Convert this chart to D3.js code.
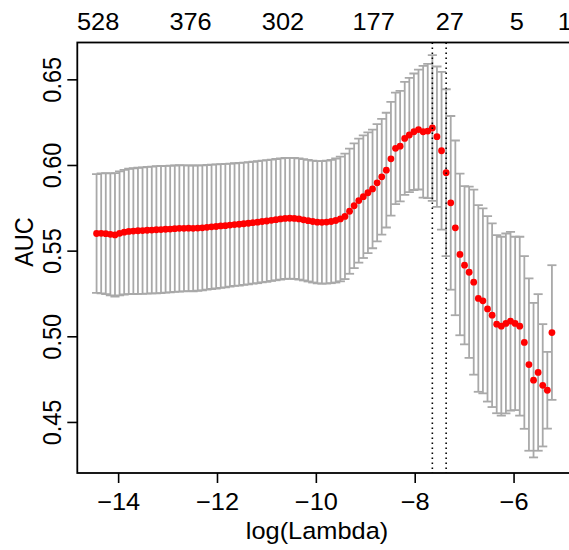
<!DOCTYPE html>
<html>
<head>
<meta charset="utf-8">
<script src="https://cdn.jsdelivr.net/npm/d3@7"></script>
<style>
body { margin: 0; background: #fff; }
text { font-family: "Liberation Sans", Arial, Helvetica, sans-serif; fill: #000; }
</style>
</head>
<body>
<script>
// log(lambda) grid of the cv fit, smallest lambda first
var logLambda = [
  -14.436, -14.343, -14.250, -14.157, -14.064, -13.971, -13.878, -13.785, -13.692, -13.599,
  -13.506, -13.412, -13.319, -13.226, -13.133, -13.040, -12.947, -12.854, -12.761, -12.668,
  -12.575, -12.482, -12.389, -12.296, -12.203, -12.110, -12.017, -11.924, -11.831, -11.738,
  -11.645, -11.551, -11.458, -11.365, -11.272, -11.179, -11.086, -10.993, -10.900, -10.807,
  -10.714, -10.621, -10.528, -10.435, -10.342, -10.249, -10.156, -10.063, -9.970, -9.877,
  -9.784, -9.690, -9.597, -9.504, -9.411, -9.318, -9.225, -9.132, -9.039, -8.946,
  -8.853, -8.760, -8.667, -8.574, -8.481, -8.388, -8.295, -8.202, -8.109, -8.016,
  -7.923, -7.829, -7.736, -7.643, -7.550, -7.457, -7.364, -7.271, -7.178, -7.085,
  -6.992, -6.899, -6.806, -6.713, -6.620, -6.527, -6.434, -6.341, -6.248, -6.155,
  -6.062, -5.968, -5.875, -5.782, -5.689, -5.596, -5.503, -5.410, -5.317, -5.224
];

// mean cross-validated AUC
var cvm = [
  0.5600, 0.5601, 0.5599, 0.5595, 0.5592, 0.5601, 0.5608, 0.5612, 0.5614, 0.5616,
  0.5617, 0.5619, 0.5620, 0.5622, 0.5623, 0.5625, 0.5626, 0.5628, 0.5630, 0.5630,
  0.5631, 0.5630, 0.5632, 0.5633, 0.5636, 0.5639, 0.5641, 0.5644, 0.5646, 0.5649,
  0.5652, 0.5654, 0.5657, 0.5660, 0.5663, 0.5666, 0.5670, 0.5673, 0.5677, 0.5681,
  0.5685, 0.5688, 0.5689, 0.5688, 0.5685, 0.5680, 0.5675, 0.5670, 0.5666, 0.5665,
  0.5667, 0.5670, 0.5676, 0.5685, 0.5700, 0.5730, 0.5762, 0.5792, 0.5815, 0.5838,
  0.5860, 0.5896, 0.5931, 0.5970, 0.6036, 0.6097, 0.6110, 0.6155, 0.6175, 0.6194,
  0.6207, 0.6194, 0.6198, 0.6216, 0.6165, 0.6083, 0.5955, 0.5779, 0.5633, 0.5478,
  0.5415, 0.5374, 0.5316, 0.5221, 0.5207, 0.5160, 0.5123, 0.5071, 0.5059, 0.5075,
  0.5088, 0.5075, 0.5059, 0.4964, 0.4835, 0.4744, 0.4789, 0.4714, 0.4685, 0.5022
];

// standard error of the cv AUC
var cvsd = [
  0.0347, 0.0350, 0.0353, 0.0356, 0.0360, 0.0362, 0.0364, 0.0366, 0.0367, 0.0368,
  0.0369, 0.0370, 0.0370, 0.0371, 0.0371, 0.0370, 0.0370, 0.0369, 0.0369, 0.0368,
  0.0367, 0.0367, 0.0366, 0.0365, 0.0364, 0.0363, 0.0362, 0.0361, 0.0360, 0.0359,
  0.0358, 0.0358, 0.0357, 0.0357, 0.0356, 0.0356, 0.0355, 0.0355, 0.0354, 0.0354,
  0.0354, 0.0353, 0.0353, 0.0353, 0.0354, 0.0354, 0.0355, 0.0356, 0.0357, 0.0358,
  0.0359, 0.0360, 0.0362, 0.0364, 0.0366, 0.0365, 0.0364, 0.0362, 0.0358, 0.0352,
  0.0346, 0.0342, 0.0338, 0.0335, 0.0332, 0.0325, 0.0323, 0.0330, 0.0333, 0.0340,
  0.0350, 0.0385, 0.0392, 0.0425, 0.0410, 0.0460, 0.0487, 0.0507, 0.0510, 0.0472,
  0.0462, 0.0500, 0.0540, 0.0545, 0.0540, 0.0541, 0.0536, 0.0520, 0.0522, 0.0525,
  0.0522, 0.0506, 0.0522, 0.0504, 0.0503, 0.0451, 0.0457, 0.0357, 0.0224, 0.0393
];

var xTicks = [-14, -12, -10, -8, -6];
var yTicks = [0.45, 0.50, 0.55, 0.60, 0.65];

// number of non-zero coefs, top axis
var topAt = [-14.405, -12.535, -10.665, -8.83, -7.29, -5.934, -4.963];
var topLabels = ["528", "376", "302", "177", "27", "5", "1"];

// lambda.min and lambda.1se
var vLines = [-7.643, -7.364];

var width = 569, height = 550;
var pLeft = 77.3, pRight = 584, pTop = 42.5, pBottom = 473;
var fs = 23.5, stretch = 1.08;   // text in the picture is a bit wide

var svg = d3.select("body")
    .append("svg")
    .attr("width", width)
    .attr("height", height)
    .style("display", "block");

svg.append("rect").attr("width", width).attr("height", height).attr("fill", "#fff");

var x = d3.scaleLinear().domain([-14.826, -4.575]).range([pLeft, pRight]);
var y = d3.scaleLinear().domain([0.4202, 0.6715]).range([pBottom, pTop]);

svg.append("clipPath").attr("id", "plotclip")
    .append("rect")
    .attr("x", pLeft).attr("y", pTop)
    .attr("width", pRight - pLeft).attr("height", pBottom - pTop);

var plot = svg.append("g").attr("clip-path", "url(#plotclip)");

var pts = logLambda.map(function(d, i) {
    return { ll: d, m: cvm[i], up: cvm[i] + cvsd[i], lo: cvm[i] - cvsd[i] };
});

// cap half width, like glmnet error.bars
var ext = d3.extent(logLambda);
var barw = (ext[1] - ext[0]) * 0.01;

var bars = plot.append("g")
    .attr("stroke", "#A9A9A9")
    .attr("stroke-width", 1.8)
    .attr("fill", "none");

bars.selectAll(".vbar")
    .data(pts)
    .enter()
    .append("line")
    .attr("x1", function(d) { return x(d.ll); })
    .attr("x2", function(d) { return x(d.ll); })
    .attr("y1", function(d) { return y(d.up); })
    .attr("y2", function(d) { return y(d.lo); });

bars.selectAll(".capUp")
    .data(pts)
    .enter()
    .append("line")
    .attr("x1", function(d) { return x(d.ll - barw); })
    .attr("x2", function(d) { return x(d.ll + barw); })
    .attr("y1", function(d) { return y(d.up); })
    .attr("y2", function(d) { return y(d.up); });

bars.selectAll(".capLo")
    .data(pts)
    .enter()
    .append("line")
    .attr("x1", function(d) { return x(d.ll - barw); })
    .attr("x2", function(d) { return x(d.ll + barw); })
    .attr("y1", function(d) { return y(d.lo); })
    .attr("y2", function(d) { return y(d.lo); });

plot.selectAll(".pt")
    .data(pts)
    .enter()
    .append("circle")
    .attr("cx", function(d) { return x(d.ll); })
    .attr("cy", function(d) { return y(d.m); })
    .attr("r", 3.4)
    .attr("fill", "#FF0000");

plot.selectAll(".vline")
    .data(vLines)
    .enter()
    .append("line")
    .attr("x1", function(d) { return x(d); })
    .attr("x2", function(d) { return x(d); })
    .attr("y1", pTop)
    .attr("y2", pBottom)
    .attr("stroke", "#000")
    .attr("stroke-width", 1.6)
    .attr("stroke-dasharray", "1.6,3.4");

// box
svg.append("rect")
    .attr("x", pLeft).attr("y", pTop)
    .attr("width", pRight - pLeft).attr("height", pBottom - pTop)
    .attr("fill", "none")
    .attr("stroke", "#000")
    .attr("stroke-width", 1.8);

// bottom axis
var gx = svg.append("g")
    .attr("transform", "translate(0," + pBottom + ")")
    .call(d3.axisBottom(x).tickValues(xTicks).tickSize(10).tickFormat(d3.format("d")));
gx.select(".domain").remove();
gx.selectAll(".tick line").attr("stroke", "#000").attr("stroke-width", 1.6);
gx.selectAll(".tick text")
    .attr("y", 0).attr("dy", 0)
    .attr("transform", "translate(0,37) scale(" + stretch + ",1)")
    .style("font-size", fs + "px")
    .style("font-family", "'Liberation Sans', Arial, sans-serif")
    .attr("fill", "#000");

// left axis
var gy = svg.append("g")
    .attr("transform", "translate(" + pLeft + ",0)")
    .call(d3.axisLeft(y).tickValues(yTicks).tickSize(10).tickFormat(d3.format(".2f")));
gy.select(".domain").remove();
gy.selectAll(".tick line").attr("stroke", "#000").attr("stroke-width", 1.6);
gy.selectAll(".tick text")
    .attr("x", 0).attr("y", 0).attr("dy", 0)
    .attr("text-anchor", "middle")
    .attr("transform", "translate(-16.3,0) scale(" + stretch + ",1) rotate(-90)")
    .style("font-size", fs + "px")
    .style("font-family", "'Liberation Sans', Arial, sans-serif")
    .attr("fill", "#000");

// top labels (df)
svg.selectAll(".toplab")
    .data(topAt)
    .enter()
    .append("text")
    .attr("text-anchor", "middle")
    .attr("transform", function(d) { return "translate(" + x(d) + ",30) scale(" + stretch + ",1)"; })
    .style("font-size", fs + "px")
    .text(function(d, i) { return topLabels[i]; });

// axis titles
svg.append("text")
    .attr("text-anchor", "middle")
    .attr("transform", "translate(317,539) scale(" + stretch + ",1)")
    .style("font-size", fs + "px")
    .text("log(Lambda)");

svg.append("text")
    .attr("text-anchor", "middle")
    .attr("transform", "translate(33,242) scale(" + stretch + ",1) rotate(-90)")
    .style("font-size", fs + "px")
    .text("AUC");
</script>
</body>
</html>
